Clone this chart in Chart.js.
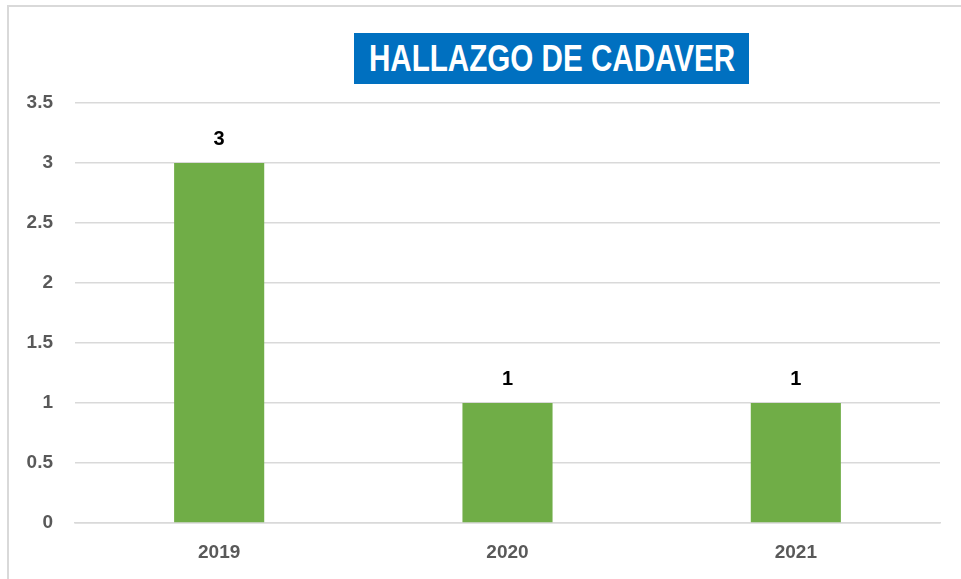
<!DOCTYPE html>
<html>
<head>
<meta charset="utf-8">
<script src="https://cdn.jsdelivr.net/npm/chart.js@4.4.1/dist/chart.umd.min.js"></script>
<style>
  html, body { margin: 0; padding: 0; background: #fff; }
  #wrap { position: relative; width: 961px; height: 579px; }
  #titre {
    position: absolute; left: 354px; top: 33px; width: 395px; height: 51px;
    background: #0070C0; color: #fff; overflow: hidden;
    font: bold 37px "Liberation Sans", Arial, sans-serif;
    line-height: 51px; white-space: nowrap;
  }
  #titre span {
    position: absolute; left: 50%; top: 0;
    transform: translateX(-50%) scaleX(0.8); transform-origin: center;
  }
</style>
</head>
<body>
<div id="wrap">
  <canvas id="graph" width="961" height="579"></canvas>
  <div id="titre"><span>HALLAZGO DE CADAVER</span></div>
</div>
<script>
// Données
const annees = ['2019', '2020', '2021'];
const valeurs = [3, 1, 1];
const yTicks = [0, 0.5, 1, 1.5, 2, 2.5, 3, 3.5];

const police = '"Liberation Sans", Arial, sans-serif';

// Cadre gris autour du graphique (haut et gauche)
const cadre = {
  id: 'cadre',
  beforeDraw(chart) {
    const ctx = chart.ctx;
    ctx.save();
    ctx.strokeStyle = '#d9d9d9';
    ctx.lineWidth = 2;
    ctx.beginPath();
    ctx.moveTo(8, 579);
    ctx.lineTo(8, 6);
    ctx.lineTo(961, 6);
    ctx.stroke();
    ctx.restore();
  },
};

// Étiquettes de valeur au-dessus des barres
const etiquettes = {
  id: 'etiquettes',
  afterDatasetsDraw(chart) {
    const ctx = chart.ctx;
    const meta = chart.getDatasetMeta(0);
    ctx.save();
    ctx.fillStyle = '#000';
    ctx.font = 'bold 20px ' + police;
    ctx.textAlign = 'center';
    ctx.textBaseline = 'middle';
    meta.data.forEach((bar, i) => {
      ctx.fillText(String(valeurs[i]), bar.x, bar.y - 24);
    });
    ctx.restore();
  },
};

new Chart(document.getElementById('graph'), {
  type: 'bar',
  data: {
    labels: annees,
    datasets: [{
      data: valeurs,
      backgroundColor: '#70AD47',
      categoryPercentage: 1,
      barPercentage: 0.3125,
    }],
  },
  options: {
    responsive: false,
    animation: false,
    layout: { padding: { top: 103, right: 21, left: 0, bottom: 0 } },
    plugins: {
      legend: { display: false },
      tooltip: { enabled: false },
    },
    scales: {
      x: {
        grid: { display: false, drawTicks: false },
        border: { color: '#d9d9d9', width: 1.5 },
        ticks: { color: '#595959', font: { family: police, size: 19, weight: 'bold' }, padding: 18 },
        afterFit: (s) => { s.height = 56; },
      },
      y: {
        min: 0,
        max: 3.5,
        afterBuildTicks: (s) => { s.ticks = yTicks.map((v) => ({ value: v })); },
        grid: { color: '#d9d9d9', lineWidth: 1.5, drawTicks: false },
        border: { display: false },
        ticks: {
          color: '#595959',
          font: { family: police, size: 19, weight: 'bold' },
          padding: 22,
          callback: (v) => String(v),
        },
        afterFit: (s) => { s.width = 75; },
      },
    },
  },
  plugins: [cadre, etiquettes],
});
</script>
</body>
</html>
